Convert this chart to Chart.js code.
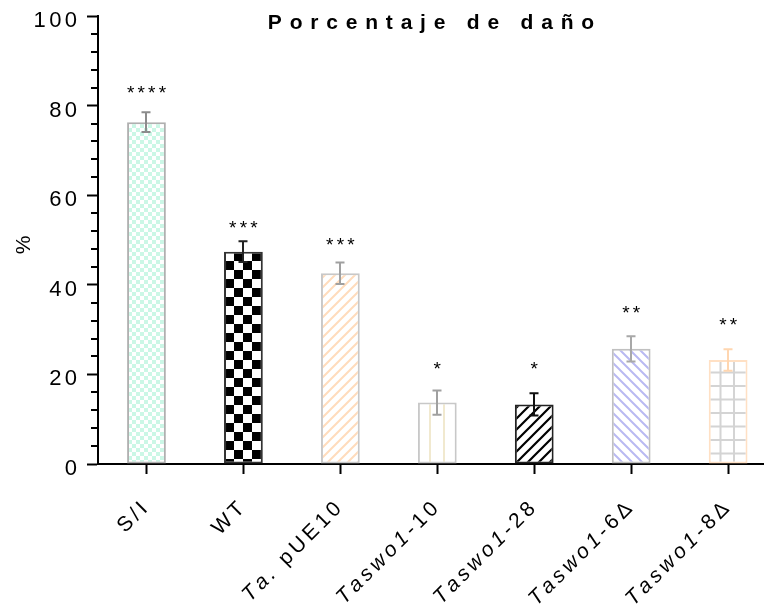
<!DOCTYPE html>
<html>
<head>
<meta charset="utf-8">
<script src="https://cdn.jsdelivr.net/npm/chart.js@4.4.1/dist/chart.umd.min.js"></script>
<style>
  html, body { margin: 0; padding: 0; background: #fff; }
  #wrap { width: 764px; height: 605px; }
</style>
</head>
<body>
<div id="wrap"><canvas id="c" width="764" height="605"></canvas></div>
<script>
// datos
var categories = ['S/I', 'WT', 'Ta. pUE10', 'Taswo1-10', 'Taswo1-28', 'Taswo1-6\u0394', 'Taswo1-8\u0394'];
var italicPart = ['', '', 'Ta.', 'Taswo1', 'Taswo1', 'Taswo1', 'Taswo1'];
var damage = [76.3, 47.4, 42.6, 13.7, 13.3, 25.7, 23.2];
var errors = [2.2, 2.3, 2.4, 2.7, 2.5, 2.8, 2.4];
var stars = ['****', '***', '***', '*', '*', '**', '**'];
var starLevel = [83.9, 53.7, 49.8, 22.3, 22.3, 34.8, 32.1];
var yTicks = [0, 20, 40, 60, 80, 100];

var FONT = '"Liberation Sans", Arial, sans-serif';

function tile(w, h, draw) {
    var cv = document.createElement('canvas');
    cv.width = w; cv.height = h;
    var g = cv.getContext('2d');
    g.fillStyle = '#fff';
    g.fillRect(0, 0, w, h);
    draw(g, w, h);
    return document.getElementById('c').getContext('2d').createPattern(cv, 'repeat');
}
function checker(size, color) {
    return tile(size * 2, size * 2, function(g) {
        g.fillStyle = color;
        g.fillRect(0, 0, size, size);
        g.fillRect(size, size, size, size);
    });
}
function stripes(s, color, width, back) {
    return tile(s, s, function(g) {
        g.strokeStyle = color;
        g.lineWidth = width;
        g.beginPath();
        if (back) {
            g.moveTo(-1, -1); g.lineTo(s + 1, s + 1);
            g.moveTo(s - 1, -1); g.lineTo(s + 1, 1);
            g.moveTo(-1, s - 1); g.lineTo(1, s + 1);
        } else {
            g.moveTo(-1, s + 1); g.lineTo(s + 1, -1);
            g.moveTo(-1, 1); g.lineTo(1, -1);
            g.moveTo(s - 1, s + 1); g.lineTo(s + 1, s - 1);
        }
        g.stroke();
    });
}

var fills = [
    checker(4, '#cbf7e6'),
    checker(9, '#000000'),
    stripes(10, '#ffdcbc', 2, false),
    tile(14, 14, function(g) { g.fillStyle = '#f1e9cf'; g.fillRect(9, 0, 2, 14); }),
    stripes(11, '#000000', 2.2, false),
    stripes(10, '#b9b9f2', 2, true),
    tile(27, 27, function(g) {
        g.fillStyle = '#d4d4d4';
        g.fillRect(4, 0, 2, 27); g.fillRect(17.5, 0, 2, 27);
        g.fillRect(0, 7, 27, 2); g.fillRect(0, 20.5, 27, 2);
    })
];
var borders = ['#b0b0b0', '#333333', '#c8c8c8', '#c8c8c8', '#222222', '#c0c0c0', '#ffe0c4'];
var errColors = ['#8c8c8c', '#222222', '#a0a0a0', '#a0a0a0', '#111111', '#a8a8a8', '#ffd6b0'];

// texto con espaciado entre letras, por segmentos
function segWidth(ctx, segs, sp) {
    var w = 0, n = 0;
    segs.forEach(function(s) {
        ctx.font = s.font;
        for (var k = 0; k < s.text.length; k++) { w += ctx.measureText(s.text[k]).width; n++; }
    });
    return w + sp * (n - 1);
}
function drawSpaced(ctx, segs, x, y, sp) {
    segs.forEach(function(s) {
        ctx.font = s.font;
        for (var k = 0; k < s.text.length; k++) {
            ctx.fillText(s.text[k], x, y);
            x += ctx.measureText(s.text[k]).width + sp;
        }
    });
}

var textPlugin = {
    id: 'textPlugin',
    afterDraw: function(chart) {
        var ctx = chart.ctx;
        var xs = chart.scales.x, ys = chart.scales.y;
        var area = chart.chartArea;
        ctx.save();
        ctx.fillStyle = '#000';
        ctx.textAlign = 'left';
        ctx.textBaseline = 'alphabetic';

        // marcas menores del eje y
        ctx.strokeStyle = '#000';
        ctx.lineWidth = 2;
        for (var v = 4; v < 100; v += 4) {
            if (v % 20 === 0) continue;
            var py = Math.round(ys.getPixelForValue(v));
            ctx.beginPath();
            ctx.moveTo(area.left - 7, py);
            ctx.lineTo(area.left, py);
            ctx.stroke();
        }

        // etiquetas del eje y
        yTicks.forEach(function(t) {
            var segs = [{ text: String(t), font: '22px ' + FONT }];
            var w = segWidth(ctx, segs, 3.4);
            drawSpaced(ctx, segs, 77 - w, ys.getPixelForValue(t) + 11, 3.4);
        });

        // etiquetas del eje x, giradas
        categories.forEach(function(lab, i) {
            var it = italicPart[i];
            var segs = [];
            if (it) segs.push({ text: it, font: 'italic 21px ' + FONT });
            var rest = lab.slice(it.length);
            if (rest) segs.push({ text: rest, font: '21px ' + FONT });
            var w = segWidth(ctx, segs, 3.8);
            ctx.save();
            ctx.translate(xs.getPixelForValue(i) + 2, 510);
            ctx.rotate(-Math.PI / 4);
            drawSpaced(ctx, segs, -w, 0, 3.8);
            ctx.restore();
        });

        // titulo
        var tseg = [{ text: 'Porcentaje de da\u00f1o', font: 'bold 21px ' + FONT }];
        var tw = segWidth(ctx, tseg, 7.8);
        drawSpaced(ctx, tseg, (area.left + area.right) / 2 - tw / 2, 29, 7.8);

        // titulo eje y
        ctx.save();
        ctx.translate(30, 245);
        ctx.rotate(-Math.PI / 2);
        ctx.textAlign = 'center';
        ctx.font = '21px ' + FONT;
        ctx.fillText('%', 0, 0);
        ctx.restore();

        // asteriscos
        stars.forEach(function(s, i) {
            var segs = [{ text: s, font: '19px ' + FONT }];
            var w = segWidth(ctx, segs, 3.2);
            drawSpaced(ctx, segs, xs.getPixelForValue(i) - w / 2, ys.getPixelForValue(starLevel[i]) + 10.5, 3.2);
        });
        ctx.restore();
    }
};

var errorPlugin = {
    id: 'errorPlugin',
    afterDatasetsDraw: function(chart) {
        var ctx = chart.ctx;
        var xs = chart.scales.x, ys = chart.scales.y;
        ctx.save();
        ctx.lineWidth = 2;
        damage.forEach(function(m, i) {
            var x = Math.round(xs.getPixelForValue(i));
            var top = ys.getPixelForValue(m + errors[i]);
            var bot = ys.getPixelForValue(m - errors[i]);
            ctx.strokeStyle = errColors[i];
            ctx.beginPath();
            ctx.moveTo(x, top); ctx.lineTo(x, bot);
            ctx.moveTo(x - 4.5, top); ctx.lineTo(x + 4.5, top);
            ctx.moveTo(x - 4.5, bot); ctx.lineTo(x + 4.5, bot);
            ctx.stroke();
        });
        ctx.restore();
    }
};

new Chart(document.getElementById('c'), {
    type: 'bar',
    data: {
        datasets: [{
            data: damage.map(function(v, i) { return { x: i, y: v }; }),
            backgroundColor: fills,
            borderColor: borders,
            borderWidth: 2,
            borderSkipped: false,
            barPercentage: 0.4,
            categoryPercentage: 1.0
        }]
    },
    options: {
        responsive: false,
        animation: false,
        layout: { padding: { left: 87, top: 16, right: 0, bottom: 131 } },
        plugins: { legend: { display: false }, tooltip: { enabled: false }, title: { display: false } },
        scales: {
            x: {
                type: 'linear',
                offset: false,
                min: -0.5,
                max: 6.37,
                afterBuildTicks: function(scale) {
                    scale.ticks = categories.map(function(c, i) { return { value: i }; });
                },
                ticks: { display: false },
                grid: { offset: false, drawOnChartArea: false, drawTicks: true, tickLength: 10, tickColor: '#000', tickWidth: 2 },
                border: { display: true, color: '#000', width: 2 }
            },
            y: {
                min: 0,
                max: 100,
                ticks: { display: false, stepSize: 20 },
                grid: { drawOnChartArea: false, drawTicks: true, tickLength: 11, tickColor: '#000', tickWidth: 2 },
                border: { display: true, color: '#000', width: 2 }
            }
        }
    },
    plugins: [errorPlugin, textPlugin]
});
</script>
</body>
</html>
